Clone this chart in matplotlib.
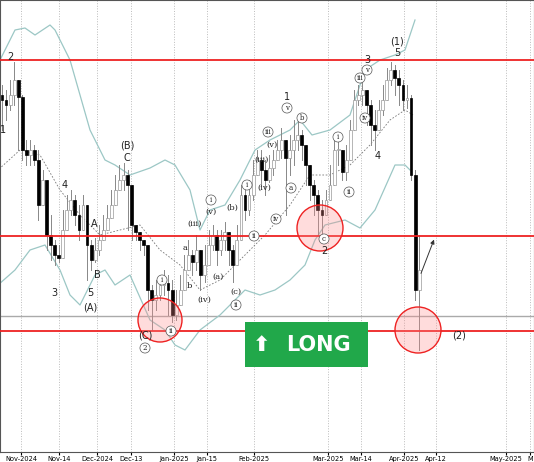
import matplotlib.pyplot as plt
import numpy as np
from matplotlib.patches import Rectangle, Ellipse

close_y = [100,105,95,80,97,150,155,150,160,205,180,235,245,255,258,230,210,200,215,230,
           205,245,260,250,240,230,218,205,190,180,175,185,225,232,240,245,290,300,295,285,
           283,290,315,305,290,270,255,262,250,275,265,245,235,250,240,232,250,265,240,195,
           210,195,175,160,170,180,168,160,150,140,158,150,140,135,145,165,185,195,210,215,
           200,185,150,150,172,160,130,100,95,90,105,125,130,110,100,80,70,78,85,100,
           98,175,290,270]
high_y = [85,90,80,62,90,95,140,140,145,150,170,180,215,240,245,210,195,190,195,205,
          195,230,240,238,225,215,205,190,175,165,163,170,220,225,235,240,245,285,280,275,
          270,275,280,290,275,255,240,250,235,250,245,230,225,230,230,222,235,245,225,185,
          185,180,160,150,150,160,155,150,140,128,140,135,120,120,130,150,165,180,190,200,
          190,165,140,140,155,145,120,90,85,80,90,100,110,100,85,68,62,65,70,80,
          85,95,170,235]
low_y = [130,120,110,105,150,160,165,165,165,220,200,250,260,265,262,240,230,215,225,240,
         220,280,270,262,255,240,230,215,200,190,190,230,240,240,250,255,310,330,310,300,
         295,315,322,320,300,290,270,275,270,290,282,260,250,265,255,250,265,282,255,215,
         220,215,200,175,185,195,182,175,160,158,215,175,165,150,160,185,200,215,235,235,
         215,200,160,165,180,180,145,110,105,105,125,145,150,125,115,95,85,95,105,110,
         108,180,300,350]

upper_x = [-2,0,15,25,35,50,55,70,90,105,115,130,150,165,175,190,200,210,225,240,255,270,290,300,312,330,350,365,380,395,405,415]
upper_y = [70,60,30,28,35,25,30,60,130,160,165,175,168,160,165,190,230,210,205,180,150,140,130,120,135,130,115,70,60,55,50,20]
lower_x = [-2,15,30,45,60,70,80,95,105,115,130,150,165,175,185,200,220,245,260,275,290,305,315,325,345,360,375,395,405,410]
lower_y = [285,270,250,245,270,295,305,275,270,285,275,320,330,345,350,330,315,290,295,290,280,265,240,225,220,228,210,165,165,170]
mid_x = [-2,20,40,60,80,100,120,140,160,180,200,220,245,265,290,310,330,350,370,390,405,413]
mid_y = [170,150,155,190,215,235,230,225,250,265,290,280,255,235,205,175,175,165,145,120,110,115]

tick_labels = ['Nov-2024','Nov-14','Dec-2024','Dec-13','Jan-2025','Jan-15','Feb-2025',
               'Mar-2025','Mar-14','Apr-2025','Apr-12','May-2025','M']
tick_px = [21,59,97,131,174,207,254,328,361,404,436,506,530]

levels_y = [60,236,331]
grey_level_y = 316

# (text, x px, y px, circled)
labels = [('2',10,57,False),('1',3,130,False),('4',65,185,False),('3',54,293,False),
          ('5',90,293,False),('(A)',90,307,False),('A',94,224,False),('B',97,275,False),
          ('(B)',127,145,False),('C',127,158,False),('(C)',145,335,False),('2',145,348,True),
          ('i',162,280,True),('ii',171,331,True),('a',185,248,False),('b',189,286,False),
          ('(iii)',195,224,False),('i',211,200,True),('(v)',211,212,False),('(iv)',204,300,False),
          ('(b)',232,208,False),('(a)',218,277,False),('(c)',236,292,False),('ii',236,305,True),
          ('i',247,185,True),('(iii)',262,160,False),('(iv)',264,188,False),('iii',268,132,True),
          ('(v)',272,145,False),('ii',254,236,True),('1',287,97,False),('v',287,108,True),
          ('b',302,118,True),('a',291,188,True),('iv',276,219,True),
          ('i',338,137,True),('ii',349,192,True),('c',324,239,True),('2',324,251,False),
          ('iii',360,78,True),('v',367,70,True),('3',367,60,False),('iv',365,118,True),
          ('4',378,156,False),('(1)',397,42,False),('5',397,53,False),('(2)',459,336,False)]

circles = [(160,320,22),(320,228,23),(418,330,23)]

PX = 4.05

def px2bar(x):
    return (np.asarray(x, dtype=float) - 2) / PX

def y2p(y):
    return 462 - np.asarray(y, dtype=float)

closes = y2p(close_y)
opens = np.concatenate([[closes[0] + 5], closes[:-1]])
highs = y2p(high_y)
lows = y2p(low_y)
idx = np.arange(len(closes))

fig = plt.figure(figsize=(5.34, 4.62), dpi=100)
ax = fig.add_axes([0, 10 / 462, 1, 452 / 462])
ax.set_xlim(px2bar(0), px2bar(534))
ax.set_ylim(y2p(452), y2p(0))

for x in px2bar(tick_px):
    ax.axvline(x, color='#bbbbbb', ls=':', lw=0.7, zorder=0)

ax.plot(px2bar(upper_x), y2p(upper_y), color='#9cc7c5', lw=0.9)
ax.plot(px2bar(lower_x), y2p(lower_y), color='#9cc7c5', lw=0.9)
ax.plot(px2bar(mid_x), y2p(mid_y), color='#777777', lw=0.6, ls=(0, (2, 2)))

for i in idx:
    o, c, h, l = opens[i], closes[i], highs[i], lows[i]
    h = max(h, o, c)
    l = min(l, o, c)
    ax.plot([i, i], [l, h], color='#888888', lw=0.7, zorder=2)
    up = c >= o
    ax.add_patch(Rectangle((i - 0.35, min(o, c)), 0.7, max(abs(c - o), 1.5),
                           facecolor='white' if up else 'black',
                           edgecolor='#999999' if up else 'black', lw=0.5, zorder=3))

for y in levels_y:
    ax.axhline(y2p(y), color='#ee2222', lw=1.3, zorder=4)
ax.axhline(y2p(grey_level_y), color='#aaaaaa', lw=1, zorder=1)

for cx, cy, r in circles:
    ax.add_patch(Ellipse((px2bar(cx), y2p(cy)), 2 * r / PX, 2 * r,
                         facecolor=(1, 0.55, 0.55, 0.3), edgecolor='#ee2222', lw=1, zorder=5))

ax.annotate('', xy=(px2bar(435), y2p(237)), xytext=(px2bar(420), y2p(276)),
            arrowprops=dict(arrowstyle='-|>', color='#333333', lw=0.7, mutation_scale=6), zorder=6)

for t, x, y, circ in labels:
    serif = circ or (t.startswith('(') and t[1:-1].islower()) or t in ('a', 'b')
    kw = dict(ha='center', va='center', fontsize=5 if circ else (6 if serif else 7),
              color='#222222', zorder=7, family='DejaVu Serif' if serif else 'DejaVu Sans')
    if circ:
        kw['bbox'] = dict(boxstyle='circle,pad=0.15', fc='white', ec='#555555', lw=0.5)
    ax.text(px2bar(x), y2p(y), t, **kw)

ax.add_patch(Rectangle((px2bar(245), y2p(367)), px2bar(368) - px2bar(245), 45,
                       facecolor='#21a84a', edgecolor='none', zorder=6))
ax.text(px2bar(318), y2p(345), 'LONG', color='white', fontsize=15, fontweight='bold',
        ha='center', va='center', zorder=7)
ax.text(px2bar(262), y2p(345), '\u2b06', color='white', fontsize=15, fontweight='bold',
        ha='center', va='center', zorder=7)

ax.set_xticks(px2bar(tick_px))
ax.set_xticklabels(tick_labels, fontsize=4.8)
ax.tick_params(axis='x', length=2, pad=1)
ax.set_yticks([])
for s in ax.spines.values():
    s.set_color('#555555')
    s.set_linewidth(0.8)

fig.savefig('out.png', dpi=100)
